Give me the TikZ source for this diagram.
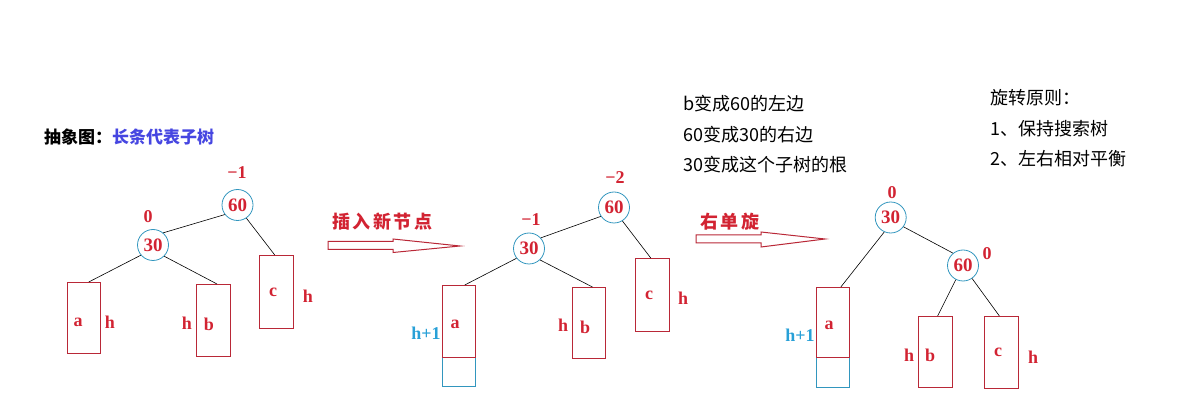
\documentclass[tikz,border=0pt]{standalone}
\usepackage{fontspec}
\setmainfont{Liberation Serif}
\newfontfamily\cjk{Noto Sans CJK SC}
\usetikzlibrary{calc}
\definecolor{tred}{RGB}{210,35,50}
\definecolor{bred}{RGB}{185,40,55}
\definecolor{cyanc}{RGB}{50,150,190}
\definecolor{hblue}{RGB}{40,160,215}
\definecolor{tblue}{RGB}{70,70,225}
\begin{document}
\begin{tikzpicture}[x=1pt,y=-1pt,
  lbl/.style={inner sep=0pt, text=tred, font=\bfseries\fontsize{18}{18}\selectfont},
  hlbl/.style={inner sep=0pt, text=hblue, font=\bfseries\fontsize{18}{18}\selectfont},
  num/.style={circle, draw=cyanc, line width=0.8pt, minimum size=31pt, inner sep=0pt, text=tred, font=\bfseries\fontsize{19}{19}\selectfont},
  sub/.style={draw=bred, line width=1pt, inner sep=0pt, anchor=north west},
  newsub/.style={draw=cyanc, line width=1pt, inner sep=0pt, anchor=north west},
  edge/.style={draw=black, line width=0.6pt},
  arr/.style={draw=bred, line width=1pt},
  note/.style={inner sep=0pt, anchor=west, font=\cjk\fontsize{18}{18}\selectfont},
  cjklbl/.style={inner sep=0pt, anchor=west, text=tred, font=\cjk\bfseries\fontsize{18}{18}\selectfont},
]
\useasboundingbox (0,0) rectangle (1202,419);

% title
\node[inner sep=0pt, anchor=west, font=\cjk\bfseries\fontsize{17}{17}\selectfont] (title) at (44,137) {抽象图：\textcolor{tblue}{长条代表子树}};

% ---------- tree 1 ----------
\node[num] (p60) at (237.5,205) {60};
\node[num] (p30) at (153,245) {30};
\node[sub, minimum width=33pt, minimum height=71pt] (a1) at (67,282) {};
\node[sub, minimum width=34pt, minimum height=72pt] (b1) at (196,284) {};
\node[sub, minimum width=34pt, minimum height=73pt] (c1) at (259,255) {};
\draw[edge] (p60.217) -- (p30.50);
\draw[edge] (p30.220) -- ($(a1.north west)!0.64!(a1.north east)$);
\draw[edge] (p30.315) -- ($(b1.north west)!0.6!(b1.north east)$);
\draw[edge] (p60.304) -- ($(c1.north west)!0.45!(c1.north east)$);
\node[lbl] (p60bf) at (237,173) {−1};
\node[lbl] (p30bf) at (148,217) {0};
\node[lbl] (a1t) at (78,322) {a};
\node[lbl] (a1h) at (110,322) {h};
\node[lbl] (b1h) at (187,323) {h};
\node[lbl] (b1t) at (209,324) {b};
\node[lbl] (c1t) at (273,292) {c};
\node[lbl] (c1h) at (308,296) {h};

% ---------- arrow 1 ----------
\node[cjklbl] (ins) at (332,222) {插\hspace{2.5pt}入\hspace{2.5pt}新\hspace{2.5pt}节\hspace{2.5pt}点};
\draw[arr] (328,241.5) -- (393,241.5) -- (393,239) -- (460,246) -- (393,252.5) -- (393,249.5) -- (328,249.5) -- cycle;

% ---------- tree 2 ----------
\node[num] (q60) at (614,207.5) {60};
\node[num] (q30) at (529,248.5) {30};
\node[newsub, minimum width=33pt, minimum height=29pt] (n2) at (442,357) {};
\node[sub, minimum width=33pt, minimum height=72pt] (a2) at (442,285) {};
\node[sub, minimum width=33pt, minimum height=71pt] (b2) at (572,287) {};
\node[sub, minimum width=34pt, minimum height=73pt] (c2) at (635,258) {};
\draw[edge] (q60.214) -- (q30.42);
\draw[edge] (q30.218) -- ($(a2.north west)!0.67!(a2.north east)$);
\draw[edge] (q30.314) -- ($(b2.north west)!0.6!(b2.north east)$);
\draw[edge] (q60.302) -- ($(c2.north west)!0.45!(c2.north east)$);
\node[lbl] (q60bf) at (615,178) {−2};
\node[lbl] (q30bf) at (531,220) {−1};
\node[lbl] (a2t) at (455,324) {a};
\node[hlbl] (a2h) at (426,333) {h+1};
\node[lbl] (b2h) at (563,325) {h};
\node[lbl] (b2t) at (585,327) {b};
\node[lbl] (c2t) at (649,295) {c};
\node[lbl] (c2h) at (683,298) {h};

% ---------- arrow 2 ----------
\node[cjklbl] (rot) at (700,222) {右\hspace{2.5pt}单\hspace{2.5pt}旋};
\draw[arr] (696,235) -- (761,235) -- (761,232) -- (825,239) -- (761,247) -- (761,243) -- (696,243) -- cycle;

% ---------- notes ----------
\node[note] (n1) at (683,104) {b变成60的左边};
\node[note] (n2l) at (683,134.5) {60变成30的右边};
\node[note] (n3) at (683,165) {30变成这个子树的根};
\node[note] (r0) at (990,98) {旋转原则：};
\node[note] (r1) at (990,129) {1、保持搜索树};
\node[note] (r2) at (990,159) {2、左右相对平衡};

% ---------- tree 3 ----------
\node[num] (s30) at (890.7,217.5) {30};
\node[num] (s60) at (963,265.5) {60};
\node[newsub, minimum width=33pt, minimum height=30pt] (n3b) at (816,357) {};
\node[sub, minimum width=33pt, minimum height=70pt] (a3) at (816,287) {};
\node[sub, minimum width=34pt, minimum height=71pt] (b3) at (918,316) {};
\node[sub, minimum width=34pt, minimum height=72pt] (c3) at (984,316) {};
\draw[edge] (s30.246) -- ($(a3.north west)!0.73!(a3.north east)$);
\draw[edge] (s30.324) -- (s60.129);
\draw[edge] (s60.243) -- ($(b3.north west)!0.56!(b3.north east)$);
\draw[edge] (s60.305) -- ($(c3.north west)!0.44!(c3.north east)$);
\node[lbl] (s30bf) at (892,193) {0};
\node[lbl] (s60bf) at (987,254) {0};
\node[lbl] (a3t) at (829,325) {a};
\node[hlbl] (a3h) at (800,335) {h+1};
\node[lbl] (b3h) at (909,355) {h};
\node[lbl] (b3t) at (930,355) {b};
\node[lbl] (c3t) at (998,352) {c};
\node[lbl] (c3h) at (1033,357) {h};
\end{tikzpicture}
\end{document}
